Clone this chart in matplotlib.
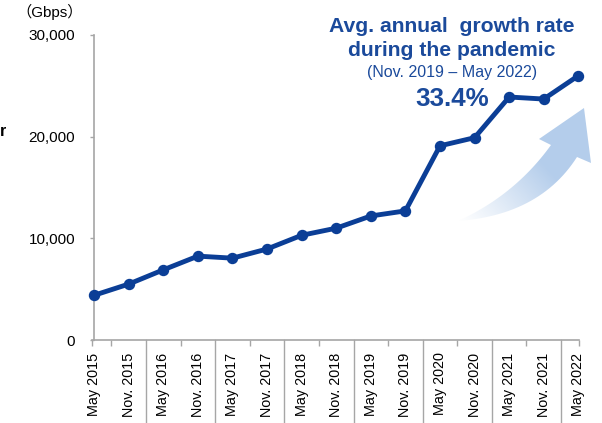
import numpy as np
import matplotlib
matplotlib.use('Agg')
from matplotlib import pyplot as plt
from matplotlib.path import Path
from matplotlib.patches import PathPatch
from matplotlib.transforms import blended_transform_factory

plt.rcParams['font.family'] = ['Liberation Sans', 'Noto Sans CJK JP', 'DejaVu Sans']

periods = ['May 2015', 'Nov. 2015', 'May 2016', 'Nov. 2016', 'May 2017',
           'Nov. 2017', 'May 2018', 'Nov. 2018', 'May 2019', 'Nov. 2019',
           'May 2020', 'Nov. 2020', 'May 2021', 'Nov. 2021', 'May 2022']
traffic_gbps = [4400, 5500, 6900, 8250, 8050, 8950, 10300, 11000, 12200,
                12700, 19100, 19900, 23900, 23700, 26000]
y_ticks = [0, 10000, 20000, 30000]
growth_rate = '33.4%'

W, H = 602, 423
LINE_BLUE = '#0b3e96'
TEXT_BLUE = '#1b4a9b'
AXIS_GRAY = '#a6a6a6'

fig = plt.figure(figsize=(W / 100, H / 100), dpi=100)

# full-figure overlay in pixel units for the decorative arrow
bg = fig.add_axes([0, 0, 1, 1], zorder=0)
bg.set_xlim(0, W)
bg.set_ylim(H, 0)
bg.axis('off')

def quad(p0, c, p1, n=30):
  t = np.linspace(0, 1, n)[:, None]
  return (1 - t) ** 2 * np.array(p0) + 2 * (1 - t) * t * np.array(c) + t ** 2 * np.array(p1)

tail = (458, 221)
lower = quad(tail, (540, 215), (577, 157))
head = np.array([(591, 163), (584, 108), (539, 139), (551, 145)])
upper = quad((551, 145), (515, 195), tail)
verts = np.vstack([lower, head, upper])
arrow_patch = PathPatch(Path(verts), facecolor='none', edgecolor='none')
bg.add_patch(arrow_patch)

# gradient fill from the tail towards the head
gx, gy = np.meshgrid(np.arange(440, 600), np.arange(100, 230))
d = np.array([584 - 458, 108 - 221], dtype=float)
proj = ((gx - 458) * d[0] + (gy - 221) * d[1]) / (d @ d)
alpha = np.clip(proj / 0.6, 0, 1) ** 1.1
rgba = np.zeros(gx.shape + (4,))
rgba[..., :3] = np.array([0xb4, 0xcd, 0xeb]) / 255
rgba[..., 3] = alpha
img = bg.imshow(rgba, extent=(440, 600, 230, 100), origin='upper',
                interpolation='bilinear', aspect='auto')
img.set_clip_path(arrow_patch)

# main chart
ax = fig.add_axes([91.7 / W, (H - 340) / H, (579.4 - 91.7) / W, (340 - 35) / H],
                  zorder=1)
ax.patch.set_alpha(0)
x = np.arange(len(periods))
ax.plot(x, traffic_gbps, color=LINE_BLUE, lw=3.5, marker='o', ms=7.2,
        solid_joinstyle='round', clip_on=False, zorder=3)

ax.set_xlim(-0.07, len(periods) - 1 + 0.03)
ax.set_ylim(0, 30000)

for side in ['top', 'right']:
  ax.spines[side].set_visible(False)
ax.spines['left'].set_position(('data', 0))
for side in ['left', 'bottom']:
  ax.spines[side].set_color(AXIS_GRAY)
  ax.spines[side].set_linewidth(1.2)

ax.set_yticks(y_ticks)
ax.set_yticklabels([f'{v:,}' for v in y_ticks])
ax.tick_params(axis='y', length=3, width=1, color=AXIS_GRAY, pad=10.5,
               labelsize=11, labelcolor='black')

ax.set_xticks(x)
ax.set_xticklabels(periods, rotation=90, va='top', ha='center')
ax.tick_params(axis='x', which='major', length=0, pad=9, labelsize=10.4,
               labelcolor='black')
minor = [-0.07] + [i + 0.5 for i in range(0, len(periods) - 1, 2)] + [len(periods) - 1 + 0.03]
ax.set_xticks(minor, minor=True)
ax.tick_params(axis='x', which='minor', length=4, width=1, color=AXIS_GRAY)

# long separators between year groups
trans = blended_transform_factory(ax.transData, ax.transAxes)
for b in range(1, len(periods) - 1, 2):
  ax.plot([b + 0.5, b + 0.5], [0, -0.275], transform=trans, color=AXIS_GRAY,
          lw=1, clip_on=False)

def px(xp, yp):
  return xp / W, 1 - yp / H

fig.text(*px(50, 12), '（Gbps）', ha='center', va='center', fontsize=11)
fig.text(*px(0, 136), 'r', ha='left', va='baseline', fontsize=11.5,
         fontweight='bold')

fig.text(*px(452, 31.5), 'Avg. annual  growth rate', ha='center', va='baseline',
         fontsize=15.2, fontweight='bold', color=TEXT_BLUE)
fig.text(*px(452, 56.5), 'during the pandemic', ha='center', va='baseline',
         fontsize=15.2, fontweight='bold', color=TEXT_BLUE)
fig.text(*px(452, 77), '(Nov. 2019 – May 2022)', ha='center', va='baseline',
         fontsize=11.5, color=TEXT_BLUE)
fig.text(*px(452, 106.5), growth_rate, ha='center', va='baseline',
         fontsize=18.7, fontweight='bold', color=TEXT_BLUE)

fig.savefig('out.png', dpi=100)
